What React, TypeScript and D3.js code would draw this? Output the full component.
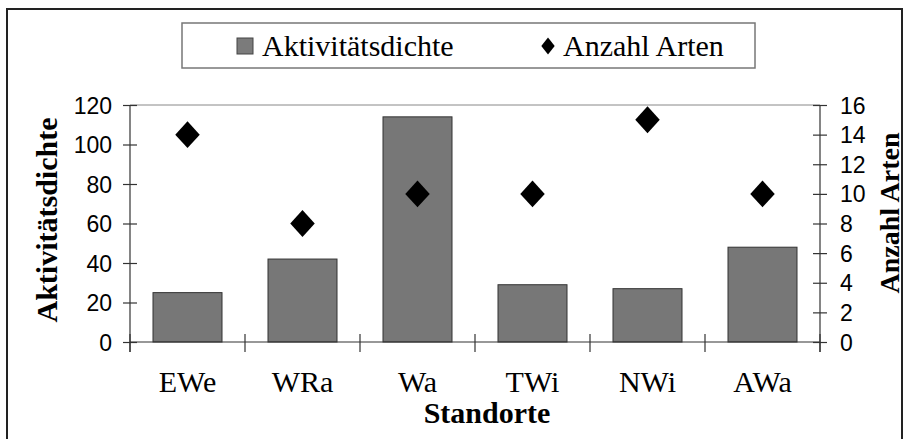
import * as d3 from "d3";
import {useEffect, useRef} from "react";

const WIDTH = 907;
const HEIGHT = 439;
// plot area (inside axes)
const PLOT = {left: 130, right: 820, top: 105, bottom: 342};

const categories = ["EWe", "WRa", "Wa", "TWi", "NWi", "AWa"];
const aktivitaetsdichte = [25, 42, 114, 29, 27, 48];
const anzahlArten = [14, 8, 10, 10, 15, 10];
const leftTicks = [0, 20, 40, 60, 80, 100, 120];
const rightTicks = [0, 2, 4, 6, 8, 10, 12, 14, 16];

const SANS = "'Liberation Sans', Arial, sans-serif";
const SERIF = "'Liberation Serif', 'Times New Roman', serif";

const App = () => {
    const ref = useRef<SVGSVGElement>(null);

    useEffect(() => {
        const svg = d3.select(ref.current);
        svg.selectAll("*").remove();

        const x = d3.scaleBand<string>()
            .domain(categories)
            .range([PLOT.left, PLOT.right])
            .paddingInner(0.4)
            .paddingOuter(0.2);
        const yLeft = d3.scaleLinear().domain([0, 120]).range([PLOT.bottom, PLOT.top]);
        const yRight = d3.scaleLinear().domain([0, 16]).range([PLOT.bottom, PLOT.top]);

        // outer frame
        svg.append("rect")
            .attr("x", 7).attr("y", 9)
            .attr("width", 895).attr("height", 440)
            .attr("fill", "white")
            .attr("stroke", "#222").attr("stroke-width", 2);

        // legend
        const legend = svg.append("g");
        legend.append("rect")
            .attr("x", 182).attr("y", 23).attr("width", 573).attr("height", 45)
            .attr("fill", "white").attr("stroke", "#777").attr("stroke-width", 1.5);
        legend.append("rect")
            .attr("x", 237).attr("y", 38).attr("width", 16).attr("height", 16)
            .attr("fill", "#7b7b7b").attr("stroke", "#444").attr("stroke-width", 1);
        legend.append("text")
            .attr("x", 262).attr("y", 56)
            .style("font-family", SERIF).style("font-size", "30px")
            .text("Aktivitätsdichte");
        legend.append("path")
            .attr("d", d3.symbol(d3.symbolSquare, 90)())
            .attr("transform", "translate(548,46) scale(1,1.25) rotate(45)")
            .attr("fill", "black");
        legend.append("text")
            .attr("x", 563).attr("y", 56)
            .style("font-family", SERIF).style("font-size", "30px")
            .text("Anzahl Arten");

        // top border of plot area
        svg.append("line")
            .attr("x1", PLOT.left).attr("x2", PLOT.right)
            .attr("y1", PLOT.top).attr("y2", PLOT.top)
            .attr("stroke", "#888").attr("stroke-width", 1);

        // bars
        svg.append("g")
            .selectAll("rect")
            .data(aktivitaetsdichte)
            .join("rect")
            .attr("x", (d, i) => x(categories[i])!)
            .attr("y", d => yLeft(d))
            .attr("width", x.bandwidth())
            .attr("height", d => yLeft(0) - yLeft(d))
            .attr("fill", "#777")
            .attr("stroke", "#333")
            .attr("stroke-width", 1);

        // x axis line + boundary ticks
        const xAxis = svg.append("g").attr("stroke", "#333").attr("stroke-width", 1.2);
        xAxis.append("line")
            .attr("x1", PLOT.left).attr("x2", PLOT.right)
            .attr("y1", PLOT.bottom).attr("y2", PLOT.bottom);
        xAxis.selectAll("line.tick")
            .data(d3.range(categories.length + 1))
            .join("line")
            .attr("class", "tick")
            .attr("x1", i => PLOT.left + i * x.step())
            .attr("x2", i => PLOT.left + i * x.step())
            .attr("y1", PLOT.bottom - 8)
            .attr("y2", PLOT.bottom + 10);

        svg.append("g")
            .selectAll("text")
            .data(categories)
            .join("text")
            .attr("x", d => x(d)! + x.bandwidth() / 2)
            .attr("y", 392)
            .attr("text-anchor", "middle")
            .style("font-family", SERIF).style("font-size", "30px")
            .text(d => d);

        // left axis
        const gl = svg.append("g")
            .attr("transform", `translate(${PLOT.left},0)`)
            .call(d3.axisLeft(yLeft).tickValues(leftTicks).tickSize(7).tickSizeOuter(0));
        gl.select(".domain").attr("d", `M0,${PLOT.top}V${PLOT.bottom + 10}`).attr("stroke", "#333").attr("stroke-width", 1.2);
        gl.selectAll(".tick line").attr("x1", -7).attr("x2", 7).attr("stroke", "#333").attr("stroke-width", 1.2);
        gl.selectAll(".tick text")
            .attr("x", -18)
            .attr("dy", "0.35em")
            .style("font-family", SANS).style("font-size", "23px").attr("fill", "black");

        // right axis
        const gr = svg.append("g")
            .attr("transform", `translate(${PLOT.right},0)`)
            .call(d3.axisRight(yRight).tickValues(rightTicks).tickSize(7).tickSizeOuter(0));
        gr.select(".domain").attr("d", `M0,${PLOT.top}V${PLOT.bottom + 10}`).attr("stroke", "#333").attr("stroke-width", 1.2);
        gr.selectAll(".tick line").attr("x1", -7).attr("x2", 7).attr("stroke", "#333").attr("stroke-width", 1.2);
        gr.selectAll(".tick text")
            .attr("x", 20)
            .attr("dy", "0.35em")
            .style("font-family", SANS).style("font-size", "23px").attr("fill", "black");
        svg.selectAll(".tick text").attr("font-family", null).attr("font-size", null);

        // diamonds (square turned 45°, slightly taller than wide)
        svg.append("g")
            .selectAll("path")
            .data(anzahlArten)
            .join("path")
            .attr("d", d3.symbol(d3.symbolSquare, 300)())
            .attr("transform", (d, i) => `translate(${x(categories[i])! + x.bandwidth() / 2},${yRight(d)}) scale(1,1.1) rotate(45)`)
            .attr("fill", "black");

        // axis titles
        svg.append("text")
            .attr("transform", `translate(57,220) rotate(-90)`)
            .attr("text-anchor", "middle")
            .style("font-family", SERIF).style("font-size", "30px").style("font-weight", "bold")
            .text("Aktivitätsdichte");
        svg.append("text")
            .attr("transform", `translate(899,213) rotate(-90)`)
            .attr("text-anchor", "middle")
            .style("font-family", SERIF).style("font-size", "28px").style("font-weight", "bold")
            .text("Anzahl Arten");
        svg.append("text")
            .attr("x", 487).attr("y", 423)
            .attr("text-anchor", "middle")
            .style("font-family", SERIF).style("font-size", "30px").style("font-weight", "bold")
            .text("Standorte");
    }, []);

    return (
        <svg ref={ref} width={WIDTH} height={HEIGHT}
             style={{position: "absolute", left: 0, top: 0, background: "white"}}/>
    );
};

export default App;
